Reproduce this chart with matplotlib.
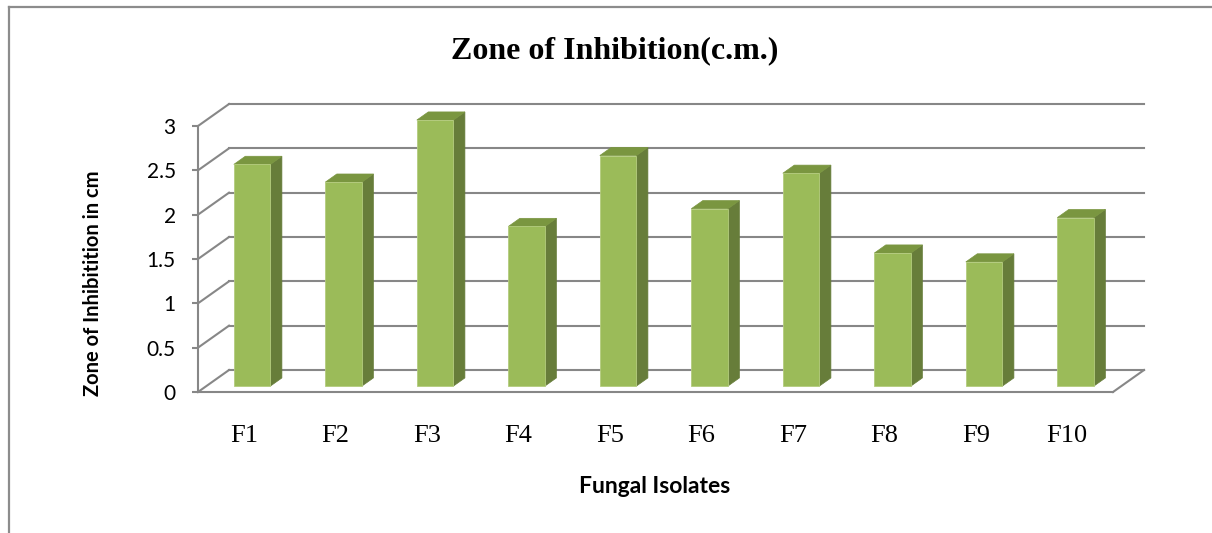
import matplotlib.pyplot as plt
from matplotlib.patches import Polygon
from matplotlib.lines import Line2D

# --- data ---
isolates = ["F1", "F2", "F3", "F4", "F5", "F6", "F7", "F8", "F9", "F10"]
zone_cm = [2.5, 2.3, 3.0, 1.8, 2.6, 2.0, 2.4, 1.5, 1.4, 1.9]
y_ticks = [0, 0.5, 1, 1.5, 2, 2.5, 3]
y_tick_labels = ["0", "0.5", "1", "1.5", "2", "2.5", "3"]

# oblique "3d" look: offset of the back wall in data units
DX, DY = 0.339, 0.248
Z0, Z1 = 0.27, 0.64      # bar depth (front / back) as fraction of floor depth
HALF_W = 0.2

grid_col = "#878787"
front_col = "#9BBB59"
side_col = "#677D3A"
top_col = "#7A9640"

fig = plt.figure(figsize=(12.12, 5.33), dpi=100)
ax = fig.add_axes([198 / 1212, 141 / 533, 915 / 1212, 266 / 533])
ax.set_xlim(-0.5, len(isolates) - 0.5)
ax.set_ylim(0, 3)

x_lo, x_hi = -0.5, len(isolates) - 0.5

# back wall gridlines + left wall diagonals
for v in y_ticks:
    ax.add_line(Line2D([x_lo + DX, x_hi + DX], [v + DY, v + DY],
                       color=grid_col, lw=1.5, clip_on=False, zorder=1))
    ax.add_line(Line2D([x_lo, x_lo + DX], [v, v + DY],
                       color=grid_col, lw=1.5, clip_on=False, zorder=1))
# right edge of the floor
ax.add_line(Line2D([x_hi, x_hi + DX], [0, DY], color=grid_col, lw=1.5,
                   clip_on=False, zorder=1))

# bars: front, side and top faces
for i, v in enumerate(zone_cm):
    xl = i - HALF_W + Z0 * DX
    xr = i + HALF_W + Z0 * DX
    yb = Z0 * DY
    dx = (Z1 - Z0) * DX
    dy = (Z1 - Z0) * DY
    front = Polygon([(xl, yb), (xr, yb), (xr, yb + v), (xl, yb + v)],
                    closed=True, fc=front_col, ec="#B4CC7E", lw=0.6,
                    zorder=3, clip_on=False)
    side = Polygon([(xr, yb), (xr + dx, yb + dy), (xr + dx, yb + v + dy),
                    (xr, yb + v)], closed=True, fc=side_col, ec=side_col,
                   lw=0.5, zorder=3, clip_on=False)
    top = Polygon([(xl, yb + v), (xr, yb + v), (xr + dx, yb + v + dy),
                   (xl + dx, yb + v + dy)], closed=True, fc=top_col,
                  ec=top_col, lw=0.5, zorder=3, clip_on=False)
    ax.add_patch(side)
    ax.add_patch(top)
    ax.add_patch(front)

# axes styling
for s in ["top", "right"]:
    ax.spines[s].set_visible(False)
for s in ["left", "bottom"]:
    ax.spines[s].set_color(grid_col)
    ax.spines[s].set_linewidth(1.5)
    ax.spines[s].set_zorder(4)
ax.patch.set_alpha(0)

ax.set_yticks(y_ticks)
ax.set_yticklabels(y_tick_labels, fontfamily="Lato", fontsize=15)
ax.tick_params(axis="y", length=4, width=1.5, color=grid_col, pad=12)

ax.set_xticks(range(len(isolates)))
ax.set_xticklabels(isolates, fontfamily="Liberation Serif", fontsize=19)
ax.tick_params(axis="x", length=0, pad=24)

ax.set_ylabel("Zone of Inhibitition in cm", fontfamily="Lato",
              fontweight="bold", fontsize=14.5)
ax.yaxis.set_label_coords(103 / 1212, 250 / 533, transform=fig.transFigure)

fig.text(655 / 1212, 1 - 493 / 533, "Fungal Isolates", ha="center",
         va="baseline", fontfamily="Lato", fontweight="bold", fontsize=16.5)
fig.text(615 / 1212, 1 - 58 / 533, "Zone of Inhibition(c.m.)", ha="center",
         va="baseline", fontfamily="Liberation Serif", fontweight="bold",
         fontsize=23)

# chart border (left and top edges visible in the crop)
fig.add_artist(Line2D([8.5 / 1212, 8.5 / 1212], [0, 1 - 6.5 / 533],
                      transform=fig.transFigure, color="#8C8C8C", lw=1.6))
fig.add_artist(Line2D([8.5 / 1212, 1], [1 - 6.5 / 533, 1 - 6.5 / 533],
                      transform=fig.transFigure, color="#8C8C8C", lw=1.6))

fig.savefig("out.png", dpi=100)
